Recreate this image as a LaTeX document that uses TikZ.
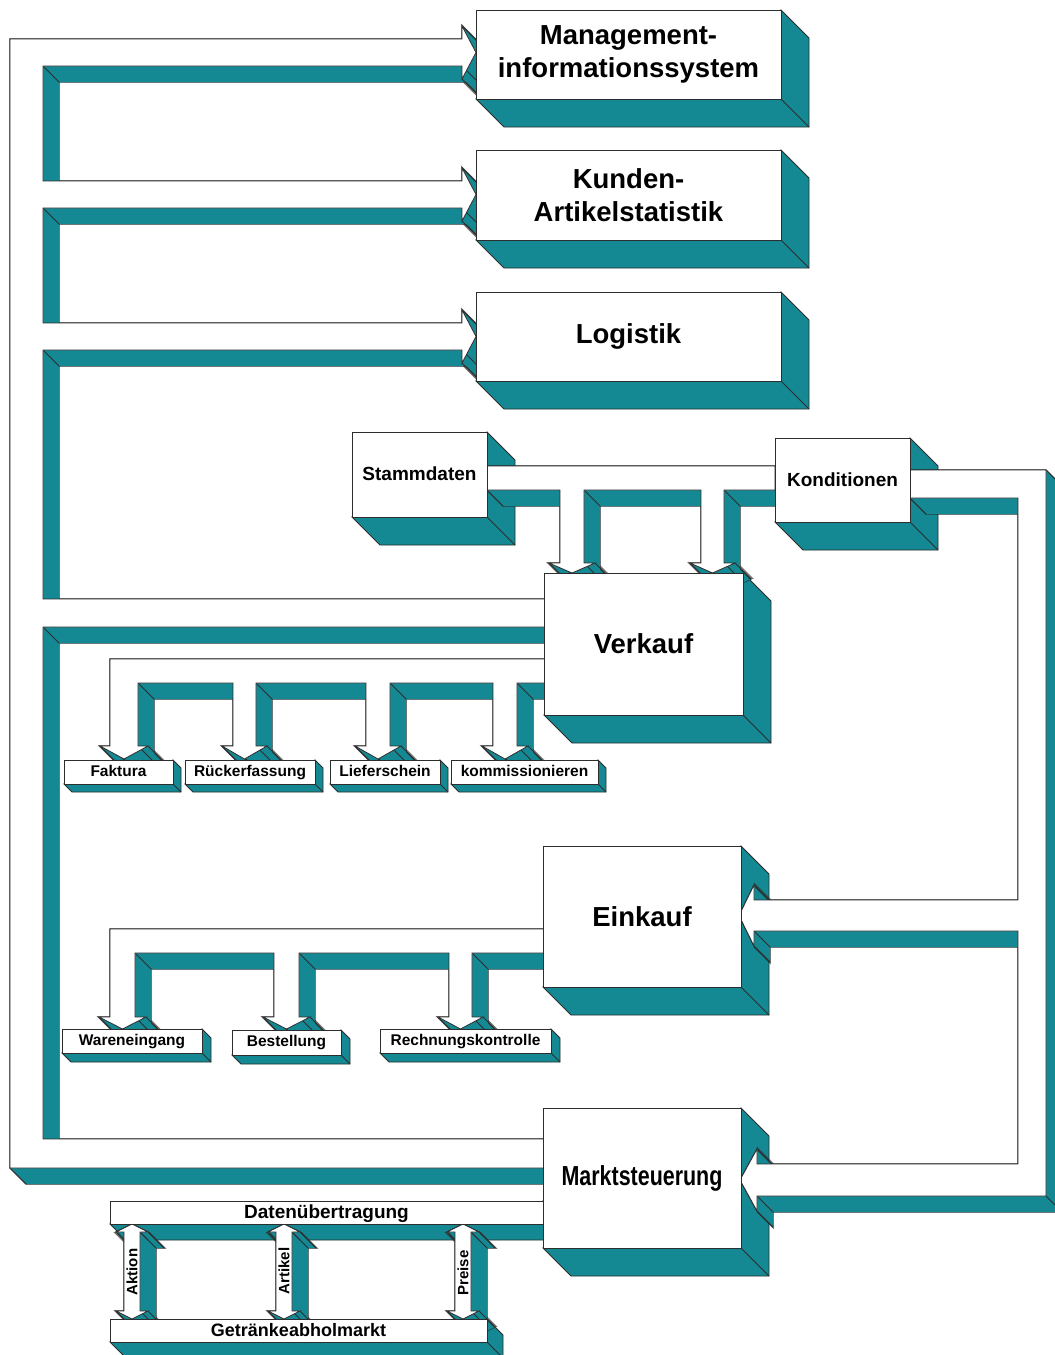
\documentclass[tikz,border=0pt]{standalone}
\usepackage{fontspec}
\setmainfont{Liberation Sans}
\usetikzlibrary{calc}
\definecolor{boxteal}{RGB}{20,137,148}
\definecolor{edgegray}{RGB}{45,45,45}
\pgfdeclarelayer{back}
\pgfdeclarelayer{flow}
\pgfsetlayers{back,flow,main}
\pgfdeclareplotmark{slant}{\pgfpathmoveto{\pgfpointorigin}\pgfpathlineto{\pgfpoint{\slantlen pt}{-\slantlen pt}}\pgfusepathqstroke}
\newcommand{\extrude}[2]{%
  \foreach \k in {0,...,#1}
    \draw[rim, shift={(\k,\k)}] plot coordinates {#2} -- cycle;
  \foreach \k in {0,...,#1}
    \fill[boxteal, shift={(\k,\k)}] plot coordinates {#2} -- cycle;
  \def\slantlen{#1}%
  \draw[edge] plot[mark=slant, only marks] coordinates {#2};}
\newcommand{\ribbon}[2]{\extrude{#1}{#2}%
  \draw[edge, fill=white] plot coordinates {#2} -- cycle;}
\newcommand{\blockside}[2]{%
  \draw[side] (#1.north east) -- ($(#1.north east)+(#2,#2)$) -- ($(#1.south east)+(#2,#2)$)
    -- ($(#1.south west)+(#2,#2)$) -- (#1.south west) -- (#1.south east) -- cycle;
  \draw[edge] (#1.south east) -- ++(#2,#2);}
\begin{document}
\begin{tikzpicture}[x=1pt, y=-1pt,
  edge/.style={draw=edgegray, line width=0.8pt},
  rim/.style={draw=edgegray, line width=1.2pt},
  side/.style={fill=boxteal, draw=edgegray, line width=0.8pt},
  face/.style={draw=edgegray, line width=0.8pt, fill=white, inner sep=0pt, outer sep=0pt, align=center},
  bigbox/.style={face, font=\fontsize{27.5}{33}\selectfont\bfseries},
  midbox/.style={face, font=\fontsize{19}{22}\selectfont\bfseries, text height=13.6pt, text depth=1pt},
  tinybox/.style={face, font=\fontsize{15.5}{18}\selectfont\bfseries, text height=11pt, text depth=3pt},
  tag/.style={rotate=90, font=\fontsize{15}{18}\selectfont\bfseries}]
\useasboundingbox (0,0) rectangle (1055,1355);

\node[bigbox, minimum width=305pt, minimum height=89pt] (mis) at (628.5,54.5) {Management-\\informationssystem};
\node[bigbox, minimum width=305pt, minimum height=90pt] (kunden) at (628.5,195) {Kunden-\\Artikelstatistik};
\node[bigbox, minimum width=305pt, minimum height=89pt] (logistik) at (628.5,336.5) {Logistik};
\node[midbox, minimum width=135pt, minimum height=85pt] (stamm) at (419.5,474.5) {Stammdaten};
\node[midbox, minimum width=135pt, minimum height=84pt] (kond) at (842.5,480) {Konditionen};
\node[bigbox, minimum width=199pt, minimum height=142pt] (verkauf) at (643.5,644) {Verkauf};
\node[bigbox, minimum width=198pt, minimum height=141pt] (einkauf) at (642,916.5) {Einkauf};
\node[midbox, minimum width=433pt, minimum height=23pt] (daten) at (326.5,1212.5) {Datenübertragung};
\node[bigbox, minimum width=198pt, minimum height=140pt] (markt) at (642,1178) {\scalebox{0.78}[1]{Marktsteuerung}};
\node[midbox, font=\fontsize{18}{21}\selectfont\bfseries, minimum width=377pt, minimum height=23pt] (abhol) at (298.5,1330.5) {Getränkeabholmarkt};

\node[tinybox, minimum width=109pt, minimum height=24pt] (faktura) at (118.5,772) {Faktura};
\node[tinybox, minimum width=130pt, minimum height=24pt] (rueck) at (250,772) {Rückerfassung};
\node[tinybox, minimum width=110pt, minimum height=24pt] (liefer) at (385,772) {Lieferschein};
\node[tinybox, minimum width=147pt, minimum height=24pt] (kommi) at (524.5,772) {kommissionieren};
\node[tinybox, minimum width=140pt, minimum height=24pt] (waren) at (132,1041) {Wareneingang};
\node[tinybox, minimum width=109pt, minimum height=25pt] (bestell) at (286.5,1042.5) {Bestellung};
\node[tinybox, minimum width=171pt, minimum height=24pt] (rechnung) at (465.5,1041) {Rechnungskontrolle};

\node[tag] (aktion) at (132,1272) {Aktion};
\node[tag] (artikel) at (284,1271) {Artikel};
\node[tag] (preise) at (463,1273) {Preise};

\begin{pgfonlayer}{back}
\foreach \b in {mis,kunden,logistik,stamm,kond,verkauf,einkauf,markt}
  \blockside{\b}{28};
\foreach \b in {faktura,rueck,liefer,kommi}
  \blockside{\b}{8};
\foreach \b in {waren,bestell,rechnung}
  \blockside{\b}{9};
\blockside{daten}{16};
\blockside{abhol}{16};
\end{pgfonlayer}

\begin{pgfonlayer}{flow}
\ribbon{16}{(10,39) (462,39) (462,26) (476,52.5) (462,79) (462,66) (43,66) (43,181) (462,181) (462,168) (476,194.5) (462,221) (462,208) (43,208) (43,323) (462,323) (462,310) (476,336.5) (462,363) (462,350) (43,350) (43,599) (560,599) (560,627) (43,627) (43,1139) (560,1139) (560,1168) (10,1168)}
\ribbon{16}{(110,659) (560,659) (560,683) (517,683) (517,746) (528,746) (505,759) (482,746) (493,746) (493,683) (390,683) (390,746) (401,746) (378,759) (355,746) (366,746) (366,683) (256,683) (256,746) (267,746) (244.5,759) (222,746) (233,746) (233,683) (138,683) (138,746) (148,746) (124,759) (100,746) (110,746)}
\ribbon{16}{(110,929) (560,929) (560,953) (472,953) (472,1017) (483,1017) (460.5,1029) (438,1017) (449,1017) (449,953) (299,953) (299,1017) (310,1017) (286.5,1029) (263,1017) (274,1017) (274,953) (135,953) (135,1017) (146,1017) (122.5,1029) (99,1017) (110,1017)}
\ribbon{16}{(487,466) (775,466) (775,490) (724,490) (724,563) (735,563) (712.5,573) (690,563) (701,563) (701,490) (584,490) (584,563) (595,563) (572,573) (549,563) (560,563) (560,490) (487,490)}
\ribbon{16}{(910,470) (1046,470) (1046,1196) (757,1196) (757,1211) (740,1180) (757,1149) (757,1164) (1018,1164) (1018,931) (754,931) (754,946) (739,915.5) (754,885) (754,900) (1018,900) (1018,498) (910,498)}
\foreach \cx in {132,284,463}
  {\ribbon{16}{(\cx,1224) (\cx+16,1232) (\cx+8,1232) (\cx+8,1311) (\cx+16,1311) (\cx,1319) (\cx-16,1311) (\cx-8,1311) (\cx-8,1232) (\cx-16,1232)}}
\end{pgfonlayer}
\end{tikzpicture}
\end{document}
